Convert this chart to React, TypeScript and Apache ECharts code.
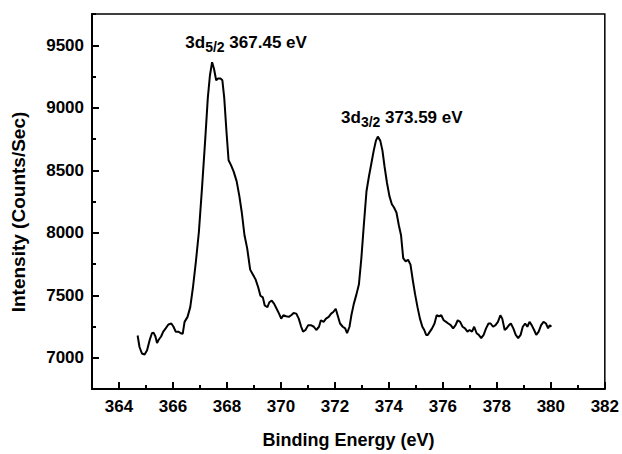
import React, { useEffect, useRef } from "react";
import * as echarts from "echarts";

const energy = [
  364.69, 364.76, 364.85, 364.95, 365.04, 365.14, 365.22, 365.28, 365.35, 365.41,
  365.47, 365.56, 365.64, 365.73, 365.83, 365.94, 366.02, 366.1, 366.2, 366.29,
  366.36, 366.43, 366.54, 366.64, 366.74, 366.85, 366.96, 367.08, 367.2, 367.29,
  367.37, 367.45, 367.52, 367.6, 367.67, 367.76, 367.83, 367.9, 367.98, 368.06,
  368.15, 368.25, 368.36, 368.46, 368.55, 368.65, 368.75, 368.86, 368.96, 369.06,
  369.16, 369.24, 369.33, 369.4, 369.5, 369.57, 369.66, 369.75, 369.84, 369.93,
  370.01, 370.09, 370.19, 370.29, 370.38, 370.47, 370.57, 370.66, 370.75, 370.82,
  370.91, 371.01, 371.11, 371.22, 371.31, 371.41, 371.48, 371.58, 371.67, 371.77,
  371.86, 371.94, 372.03, 372.1, 372.19, 372.29, 372.38, 372.45, 372.54, 372.61,
  372.7, 372.8, 372.89, 372.98, 373.07, 373.17, 373.26, 373.35, 373.44, 373.52,
  373.59, 373.68, 373.76, 373.84, 373.93, 374.02, 374.11, 374.19, 374.28, 374.37,
  374.45, 374.53, 374.62, 374.71, 374.8, 374.89, 374.97, 375.06, 375.15, 375.24,
  375.31, 375.38, 375.44, 375.52, 375.6, 375.69, 375.77, 375.86, 375.94, 376.03,
  376.12, 376.2, 376.29, 376.38, 376.47, 376.55, 376.64, 376.73, 376.82, 376.91,
  376.99, 377.08, 377.16, 377.25, 377.33, 377.42, 377.51, 377.6, 377.69, 377.77,
  377.86, 377.95, 378.04, 378.13, 378.2, 378.29, 378.36, 378.45, 378.52, 378.61,
  378.7, 378.79, 378.88, 378.96, 379.05, 379.13, 379.21, 379.29, 379.38, 379.46,
  379.55, 379.64, 379.73, 379.82, 379.9, 379.96, 380.02,
];

const intensity = [
  7178, 7086, 7034, 7026, 7060, 7144, 7196, 7201, 7170, 7118,
  7144, 7170, 7209, 7235, 7266, 7274, 7248, 7209, 7209, 7196,
  7191, 7287, 7327, 7405, 7562, 7771, 8006, 8371, 8763, 9077,
  9260, 9364, 9312, 9220, 9234, 9234, 9220, 9077, 8816, 8580,
  8541, 8489, 8411, 8293, 8162, 7980, 7875, 7705, 7666, 7627,
  7562, 7496, 7483, 7418, 7405, 7444, 7457, 7431, 7392, 7353,
  7313, 7340, 7332, 7327, 7340, 7358, 7353, 7313, 7248, 7209,
  7222, 7261, 7261, 7248, 7222, 7248, 7300, 7287, 7313, 7327,
  7353, 7366, 7392, 7340, 7274, 7248, 7235, 7196, 7248, 7340,
  7431, 7509, 7588, 7797, 8058, 8332, 8450, 8554, 8659, 8737,
  8769, 8737, 8659, 8528, 8398, 8293, 8228, 8202, 8162, 8058,
  7980, 7797, 7771, 7784, 7745, 7614, 7509, 7405, 7313, 7248,
  7222, 7183, 7183, 7209, 7235, 7274, 7340, 7332, 7340, 7300,
  7287, 7274, 7261, 7235, 7261, 7300, 7287, 7248, 7235, 7209,
  7222, 7209, 7248, 7196, 7183, 7157, 7183, 7235, 7274, 7274,
  7248, 7261, 7287, 7340, 7313, 7222, 7235, 7261, 7274, 7235,
  7183, 7157, 7183, 7248, 7274, 7248, 7287, 7261, 7222, 7183,
  7209, 7261, 7287, 7274, 7235, 7261, 7248,
];

const xTicks = [364, 366, 368, 370, 372, 374, 376, 378, 380, 382];
const yTicks = [7000, 7500, 8000, 8500, 9000, 9500];

const peakNames = ["3d", "3d"];
const peakSubs = ["5/2", "3/2"];
const peakEnergies = [367.45, 373.59];
const peakHeights = [9370, 8770];
const peakLabelOffsetX = [34, 24];

const FONT = "'Liberation Sans', Arial, Helvetica, sans-serif";

export default function App() {
  const ref = useRef<HTMLDivElement>(null);

  useEffect(() => {
    if (!ref.current) return;
    const chart = echarts.init(ref.current, undefined, { renderer: "svg" });
    const lineData = energy.map((e, i) => [e, intensity[i]]);

    const tickLabelStyle = {
      color: "#000",
      fontFamily: FONT,
      fontWeight: "bold" as const,
      fontSize: 17,
      formatter: (v: number) => String(v),
    };

    chart.setOption({
      animation: false,
      backgroundColor: "#fff",
      grid: {
        left: 92,
        right: 16,
        top: 14,
        bottom: 57,
        show: true,
        borderColor: "#000",
        borderWidth: 1.5,
        backgroundColor: "transparent",
      },
      xAxis: [
        {
          type: "value",
          min: 363,
          max: 382,
          interval: 1,
          position: "bottom",
          axisLine: { show: true, lineStyle: { color: "#000", width: 2 } },
          axisTick: { show: true, inside: true, length: 4, lineStyle: { color: "#000", width: 2 } },
          axisLabel: { ...tickLabelStyle, margin: 9, customValues: xTicks },
          splitLine: { show: false },
          name: "Binding Energy (eV)",
          nameLocation: "middle",
          nameGap: 42,
          nameTextStyle: { color: "#000", fontFamily: FONT, fontWeight: "bold", fontSize: 18 },
        },
        {
          type: "value",
          min: 363,
          max: 382,
          position: "bottom",
          axisLine: { show: false },
          axisTick: {
            show: true,
            inside: true,
            length: 7,
            customValues: xTicks,
            lineStyle: { color: "#000", width: 2 },
          },
          axisLabel: { show: false },
          splitLine: { show: false },
        },
      ],
      yAxis: [
        {
          type: "value",
          min: 6750,
          max: 9750,
          interval: 250,
          position: "left",
          axisLine: { show: true, lineStyle: { color: "#000", width: 2 } },
          axisTick: { show: true, inside: true, length: 4, lineStyle: { color: "#000", width: 2 } },
          axisLabel: { ...tickLabelStyle, margin: 8, customValues: yTicks },
          splitLine: { show: false },
        },
        {
          type: "value",
          min: 6750,
          max: 9750,
          position: "left",
          axisLine: { show: false },
          axisTick: {
            show: true,
            inside: true,
            length: 7,
            customValues: yTicks,
            lineStyle: { color: "#000", width: 2 },
          },
          axisLabel: { show: false },
          splitLine: { show: false },
        },
      ],
      graphic: [
        {
          type: "text",
          x: 18,
          y: 212,
          rotation: Math.PI / 2,
          style: {
            text: "Intensity (Counts/Sec)",
            fill: "#000",
            font: `bold 19px ${FONT}`,
            align: "center",
            verticalAlign: "middle",
          },
        },
      ],
      series: [
        {
          type: "line",
          data: lineData,
          xAxisIndex: 0,
          yAxisIndex: 0,
          showSymbol: false,
          symbol: "none",
          smooth: false,
          lineStyle: { color: "#000", width: 2 },
          markPoint: {
            symbol: "circle",
            symbolSize: 1,
            itemStyle: { color: "rgba(0,0,0,0)" },
            data: peakEnergies.map((e, i) => ({
              coord: [e, peakHeights[i]],
              label: {
                show: true,
                position: "inside",
                offset: [peakLabelOffsetX[i], -15],
                formatter: `{a|${peakNames[i]}}{s|${peakSubs[i]}}{a| ${e.toFixed(2)} eV}`,
                rich: {
                  a: {
                    fontFamily: FONT,
                    fontWeight: "bold",
                    fontSize: 17,
                    lineHeight: 14,
                    color: "#000",
                    verticalAlign: "top",
                  },
                  s: {
                    fontFamily: FONT,
                    fontWeight: "bold",
                    fontSize: 14,
                    lineHeight: 26,
                    color: "#000",
                    verticalAlign: "middle",
                  },
                },
              },
            })),
          },
        },
      ],
    });

    return () => chart.dispose();
  }, []);

  return (
    <div
      ref={ref}
      style={{ position: "fixed", left: 0, top: 0, width: 622, height: 454, background: "#fff" }}
    />
  );
}
